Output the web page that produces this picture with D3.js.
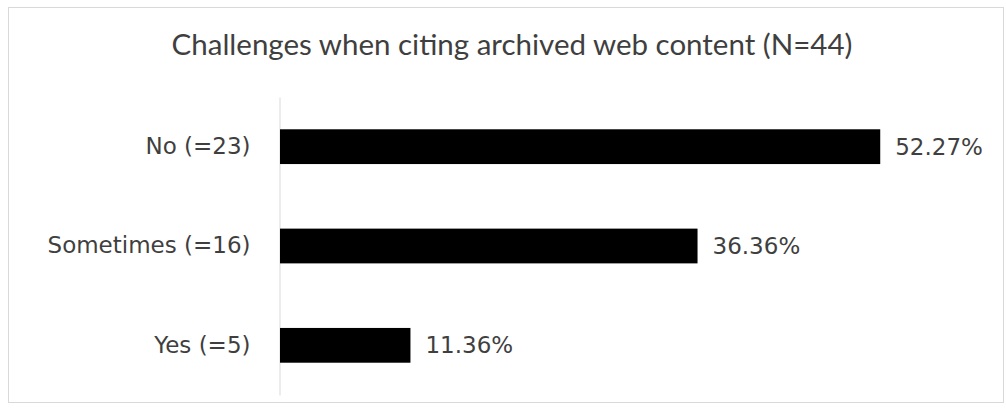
<!DOCTYPE html>
<html>
<head>
<meta charset="utf-8">
<script src="https://d3js.org/d3.v7.min.js"></script>
<style>
  html, body { margin: 0; padding: 0; background: #fff; }
  svg { display: block; }
</style>
</head>
<body>
<svg id="chart" width="1006" height="412"></svg>
<script>
// Survey responses: share of respondents per answer
const categories = ["No (=23)", "Sometimes (=16)", "Yes (=5)"];
const shares = [52.27, 36.36, 11.36];
const valueLabels = ["52.27%", "36.36%", "11.36%"];
const title = "Challenges when citing archived web content (N=44)";

const svg = d3.select("#chart");
const titleFont = "Lato, 'Open Sans', sans-serif";
const labelFont = "'DejaVu Sans', Verdana, sans-serif";
const textColor = "#3f3f3f";

// Chart frame
svg.append("rect")
  .attr("x", 8.5).attr("y", 7.5)
  .attr("width", 995).attr("height", 395)
  .attr("fill", "#fff")
  .attr("stroke", "#d9d9d9")
  .attr("stroke-width", 1);

svg.append("text")
  .attr("x", 512).attr("y", 55)
  .attr("text-anchor", "middle")
  .attr("font-family", titleFont)
  .attr("font-size", 29.5)
  .attr("fill", textColor)
  .text(title);

const x = d3.scaleLinear().domain([0, 60]).range([280, 969]);
const y = d3.scaleBand().domain(categories).range([97, 395]).paddingInner(0.65).paddingOuter(0.325);

// Category axis
const yAxis = d3.axisLeft(y).tickSize(0).tickPadding(29);
const gy = svg.append("g").attr("transform", "translate(279.5,0)").call(yAxis);
gy.select(".domain").attr("stroke", "#d9d9d9").attr("stroke-width", 1);
gy.selectAll(".tick text")
  .attr("font-family", labelFont)
  .attr("font-size", 23)
  .attr("fill", textColor);

const data = categories.map((c, i) => ({ cat: c, v: shares[i], label: valueLabels[i] }));

svg.append("g").selectAll("rect")
  .data(data)
  .join("rect")
  .attr("x", x(0))
  .attr("y", d => y(d.cat))
  .attr("width", d => x(d.v) - x(0))
  .attr("height", y.bandwidth())
  .attr("fill", "#000");

svg.append("g").selectAll("text")
  .data(data)
  .join("text")
  .attr("x", d => x(d.v) + 15)
  .attr("y", d => y(d.cat) + y.bandwidth() / 2)
  .attr("dy", "0.35em")
  .attr("font-family", labelFont)
  .attr("font-size", 23)
  .attr("fill", textColor)
  .text(d => d.label);
</script>
</body>
</html>
